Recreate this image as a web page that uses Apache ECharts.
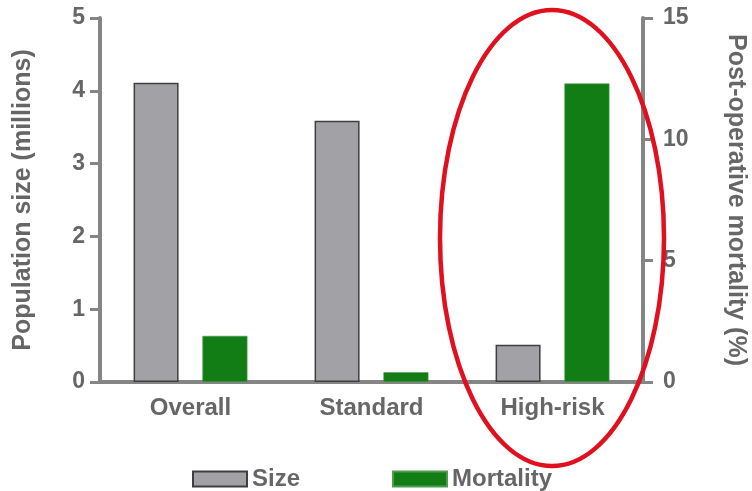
<!DOCTYPE html>
<html>
<head>
<meta charset="utf-8">
<script src="https://cdn.jsdelivr.net/npm/echarts@6/dist/echarts.min.js"></script>
<style>
  html, body { margin: 0; padding: 0; background: #fff; }
  #chart { width: 752px; height: 491px; }
</style>
</head>
<body>
<div id="chart"></div>
<script>
// Patient groups along the x axis
const categories = ['Overall', 'Standard', 'High-risk'];
// Population size, millions (left axis)
const sizeValues = [4.11, 3.59, 0.51];
// Post-operative mortality, % (right axis)
const mortalityValues = [1.9, 0.4, 12.3];

const FONT = '"Liberation Sans", Arial, sans-serif';
const AXIS_GREY = '#858585';
const TEXT_GREY = '#666666';

const chart = echarts.init(document.getElementById('chart'), null, { renderer: 'canvas' });

chart.setOption({
  animation: false,
  textStyle: { fontFamily: FONT },
  grid: {
    left: 100, right: 109, top: 18, bottom: 109,
    containLabel: false,
    outerBoundsMode: 'none'
  },
  legend: {
    left: 187,
    top: 462,
    icon: 'rect',
    itemWidth: 54,
    itemHeight: 15,
    itemGap: 92,
    textStyle: { fontFamily: FONT, fontSize: 24, fontWeight: 'bold', color: TEXT_GREY },
    data: ['Size', 'Mortality']
  },
  xAxis: {
    type: 'category',
    data: categories,
    axisLine: { lineStyle: { color: AXIS_GREY, width: 4 } },
    axisTick: { show: false },
    axisLabel: { fontFamily: FONT, fontSize: 24, fontWeight: 'bold', color: TEXT_GREY, margin: 14 }
  },
  yAxis: [
    {
      type: 'value',
      min: 0, max: 5, interval: 1,
      name: 'Population size (millions)',
      nameLocation: 'middle',
      nameGap: 64,
      nameTextStyle: { fontFamily: FONT, fontSize: 25, fontWeight: 'bold', color: TEXT_GREY },
      axisLine: { show: true, lineStyle: { color: AXIS_GREY, width: 4 } },
      axisTick: { show: true, length: 10, lineStyle: { color: AXIS_GREY, width: 3 } },
      axisLabel: { fontFamily: FONT, fontSize: 23, fontWeight: 'bold', color: TEXT_GREY, margin: 15 },
      splitLine: { show: false }
    },
    {
      type: 'value',
      position: 'right',
      min: 0, max: 15, interval: 5,
      name: 'Post-operative mortality (%)',
      nameLocation: 'middle',
      nameRotate: -90,
      nameGap: 80,
      nameTextStyle: { fontFamily: FONT, fontSize: 25, fontWeight: 'bold', color: TEXT_GREY },
      axisLine: { show: true, lineStyle: { color: AXIS_GREY, width: 4 } },
      axisTick: { show: true, length: 10, lineStyle: { color: AXIS_GREY, width: 3 } },
      axisLabel: { fontFamily: FONT, fontSize: 23, fontWeight: 'bold', color: TEXT_GREY, margin: 20 },
      splitLine: { show: false }
    }
  ],
  series: [
    {
      name: 'Size',
      type: 'bar',
      yAxisIndex: 0,
      data: sizeValues,
      barWidth: 45,
      barGap: '53%',
      itemStyle: { color: '#a2a1a6', borderColor: '#3f3f3f', borderWidth: 1.5 }
    },
    {
      name: 'Mortality',
      type: 'bar',
      yAxisIndex: 1,
      data: mortalityValues,
      barWidth: 45,
      itemStyle: { color: '#117d14', borderColor: '#4f9c50', borderWidth: 0.6 }
    }
  ],
  graphic: [
    {
      type: 'ellipse',
      z: 100,
      shape: { cx: 552, cy: 238, rx: 112, ry: 228 },
      style: { fill: 'none', stroke: '#e0101e', lineWidth: 4.5 }
    }
  ]
});
</script>
</body>
</html>
